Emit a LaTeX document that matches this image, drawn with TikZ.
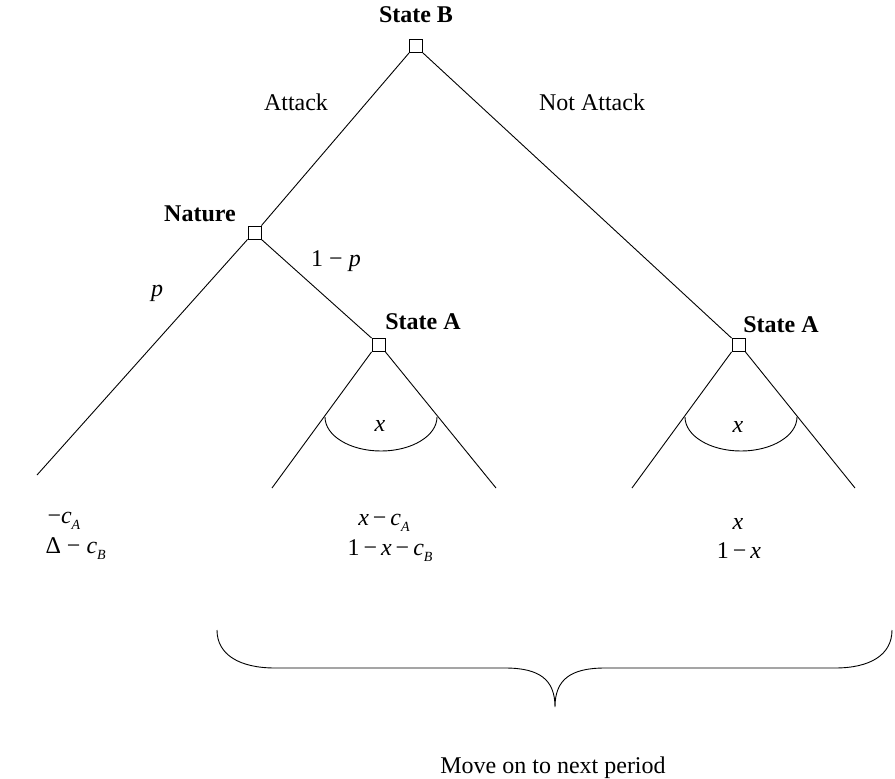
\documentclass[tikz,border=0pt]{standalone}
\usepackage{fontspec}
\setmainfont{Liberation Serif}
\newcommand\lsub[1]{\raisebox{-0.55ex}{\fontsize{14}{14}\selectfont\itshape #1}}
\begin{document}
\begin{tikzpicture}[x=1pt,y=-1pt,
  dnode/.style={draw,line width=0.9pt,minimum size=13pt,inner sep=0pt,fill=white},
  lbl/.style={font=\fontsize{24}{26}\selectfont},
  blbl/.style={font=\fontsize{24}{26}\selectfont\bfseries},
  br/.style={line width=0.9pt}]
\useasboundingbox (0,0) rectangle (895,779);
% decision nodes
\node[dnode] (B) at (416,46) {};
\node[dnode] (N) at (254.5,232.5) {};
\node[dnode] (A1) at (378.5,345) {};
\node[dnode] (A2) at (738.5,345) {};
% leaves
\coordinate (L0) at (37,475);
\coordinate (L1) at (272,488);
\coordinate (L2) at (496,488);
\coordinate (L3) at (632,488);
\coordinate (L4) at (855,488);
% branches
\draw[br] (B.south west) -- (N.north east);
\draw[br] (B.south east) -- (A2.north west);
\draw[br] (N.south west) -- (L0);
\draw[br] (N.south east) -- (A1.north west);
\draw[br] (A1.south west) -- (L1);
\draw[br] (A1.south east) -- (L2);
\draw[br] (A2.south west) -- (L3);
\draw[br] (A2.south east) -- (L4);
% arcs
\draw[br] (325,417) arc[start angle=180,end angle=0,x radius=56,y radius=34];
\draw[br] (685,417) arc[start angle=180,end angle=0,x radius=56,y radius=34];
% node labels
\node[blbl] (tB) at (416,15) {State B};
\node[blbl] (tN) at (200,214) {Nature};
\node[blbl] (tA1) at (423,322) {State A};
\node[blbl] (tA2) at (781,325) {State A};
% edge labels
\node[lbl] (eAt) at (296,102) {Attack};
\node[lbl] (eNA) at (592,102) {Not Attack};
\node[lbl] (e1p) at (336,261) {1 − \textit{p}};
\node[lbl] (ep) at (157,293) {\textit{p}};
\node[lbl] (x1) at (380,426) {\textit{x}};
\node[lbl] (x2) at (738,427) {\textit{x}};
% payoffs
\node[lbl,anchor=west] (p0a) at (44,521) {−\textit{c}\lsub{A}};
\node[lbl,anchor=west] (p0b) at (42,549) {Δ − \textit{c}\lsub{B}};
\node[lbl] (p1a) at (384,523) {\textit{x}\,−\,\textit{c}\lsub{A}};
\node[lbl] (p1b) at (390,551) {1\,−\,\textit{x}\,−\,\textit{c}\lsub{B}};
\node[lbl] (p2a) at (738,524) {\textit{x}};
\node[lbl] (p2b) at (739,551) {1\,−\,\textit{x}};
% brace
\coordinate (bl) at (217,630);
\coordinate (bm) at (555,707);
\coordinate (bre) at (892,630);
\draw[br] (bl) .. controls (217,655) and (240,668) .. (275,668) -- (505,668)
  .. controls (540,668) and (555,680) .. (bm)
  .. controls (555,680) and (570,668) .. (605,668) -- (835,668)
  .. controls (870,668) and (892,655) .. (bre);
\node[lbl] (mv) at (553,768) {Move on to next period};
\end{tikzpicture}
\end{document}
